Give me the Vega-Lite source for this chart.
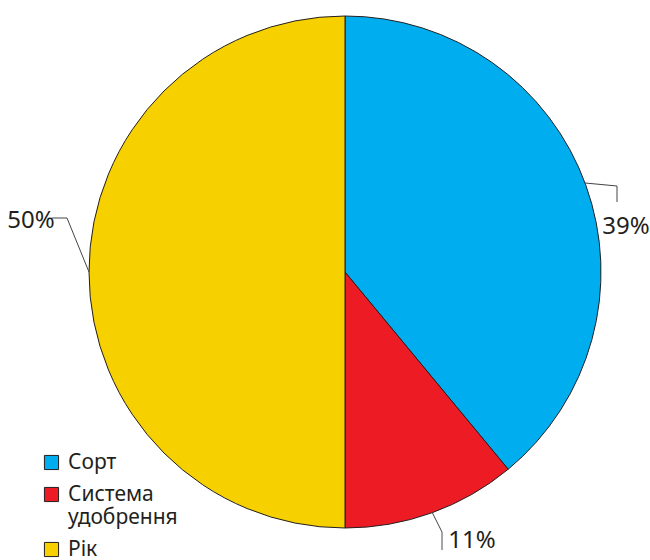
{
  "$schema": "https://vega.github.io/schema/vega-lite/v6.json",
  "width": 600,
  "height": 544,
  "autosize": {"type": "none"},
  "padding": {"left": 45, "top": 0, "right": 5, "bottom": 16},
  "background": "white",
  "config": {"view": {"stroke": null}, "font": "Noto Sans"},
  "data": {"values": [
    {"category": "Сорт", "value": 39},
    {"category": "Система удобрення", "value": 11},
    {"category": "Рік", "value": 50}
  ]},
  "transform": [{"calculate": "datum.value + '%'", "as": "label"}],
  "layer": [
    {
      "mark": {"type": "arc", "outerRadius": 256, "stroke": "#231F20", "strokeWidth": 1},
      "encoding": {
        "theta": {"field": "value", "type": "quantitative", "stack": true},
        "color": {
          "field": "category", "type": "nominal",
          "sort": ["Сорт", "Система удобрення", "Рік"],
          "scale": {"domain": ["Сорт", "Система удобрення", "Рік"], "range": ["#00AEEF", "#ED1C24", "#F7D000"]},
          "legend": {
            "orient": "none", "legendX": -4, "legendY": 452, "title": null,
            "symbolType": "square", "symbolSize": 200, "symbolStrokeColor": "#231F20", "symbolStrokeWidth": 1,
            "labelFont": "Noto Sans", "labelFontSize": 21, "labelColor": "#231F20",
            "labelExpr": "datum.label == 'Система удобрення' ? ['Система', 'удобрення'] : datum.label",
            "rowPadding": 10, "labelOffset": 6, "labelLimit": 300
          }
        },
        "order": {"field": "category", "sort": "descending"}
      }
    },
    {
      "data": {"values": [{}]},
      "mark": {"type": "rule", "color": "#444444", "strokeWidth": 1},
      "encoding": {
        "x": {"datum": 0.9375, "type": "quantitative", "scale": {"domain": [-1.171875, 1.171875], "nice": false, "zero": false}, "axis": null},
        "y": {"datum": 0.3477, "type": "quantitative", "scale": {"domain": [-1.0625, 1.0625], "nice": false, "zero": false}, "axis": null},
        "x2": {"datum": 1.0625},
        "y2": {"datum": 0.3359}
      }
    },
    {
      "data": {"values": [{}]},
      "mark": {"type": "rule", "color": "#444444", "strokeWidth": 1},
      "encoding": {
        "x": {"datum": 1.0625, "type": "quantitative"},
        "y": {"datum": 0.3359, "type": "quantitative"},
        "x2": {"datum": 1.0625},
        "y2": {"datum": 0.2734}
      }
    },
    {
      "data": {"values": [{}]},
      "mark": {"type": "rule", "color": "#444444", "strokeWidth": 1},
      "encoding": {
        "x": {"datum": 0.3398, "type": "quantitative"},
        "y": {"datum": -0.9375, "type": "quantitative"},
        "x2": {"datum": 0.3789},
        "y2": {"datum": -1.0156}
      }
    },
    {
      "data": {"values": [{}]},
      "mark": {"type": "rule", "color": "#888888", "strokeWidth": 1.5},
      "encoding": {
        "x": {"datum": 0.3789, "type": "quantitative"},
        "y": {"datum": -1.0156, "type": "quantitative"},
        "x2": {"datum": 0.3789},
        "y2": {"datum": -1.0859}
      }
    },
    {
      "data": {"values": [{}]},
      "mark": {"type": "rule", "color": "#444444", "strokeWidth": 1},
      "encoding": {
        "x": {"datum": -1.0, "type": "quantitative"},
        "y": {"datum": 0.0, "type": "quantitative"},
        "x2": {"datum": -1.0859},
        "y2": {"datum": 0.2109}
      }
    },
    {
      "data": {"values": [{}]},
      "mark": {"type": "rule", "color": "#444444", "strokeWidth": 1},
      "encoding": {
        "x": {"datum": -1.0859, "type": "quantitative"},
        "y": {"datum": 0.2109, "type": "quantitative"},
        "x2": {"datum": -1.1445},
        "y2": {"datum": 0.2109}
      }
    },
    {
      "transform": [{"filter": "datum.category == 'Сорт'"}],
      "mark": {"type": "text", "fontSize": 24, "color": "#231F20", "align": "center", "baseline": "middle", "font": "Noto Sans"},
      "encoding": {
        "x": {"datum": 1.0977, "type": "quantitative"},
        "y": {"datum": 0.1758, "type": "quantitative"},
        "text": {"field": "label"}
      }
    },
    {
      "transform": [{"filter": "datum.category == 'Система удобрення'"}],
      "mark": {"type": "text", "fontSize": 24, "color": "#231F20", "align": "center", "baseline": "middle", "font": "Noto Sans"},
      "encoding": {
        "x": {"datum": 0.496, "type": "quantitative"},
        "y": {"datum": -1.0508, "type": "quantitative"},
        "text": {"field": "label"}
      }
    },
    {
      "transform": [{"filter": "datum.category == 'Рік'"}],
      "mark": {"type": "text", "fontSize": 24, "color": "#231F20", "align": "center", "baseline": "middle", "font": "Noto Sans"},
      "encoding": {
        "x": {"datum": -1.2266, "type": "quantitative"},
        "y": {"datum": 0.1992, "type": "quantitative"},
        "text": {"field": "label"}
      }
    }
  ]
}
